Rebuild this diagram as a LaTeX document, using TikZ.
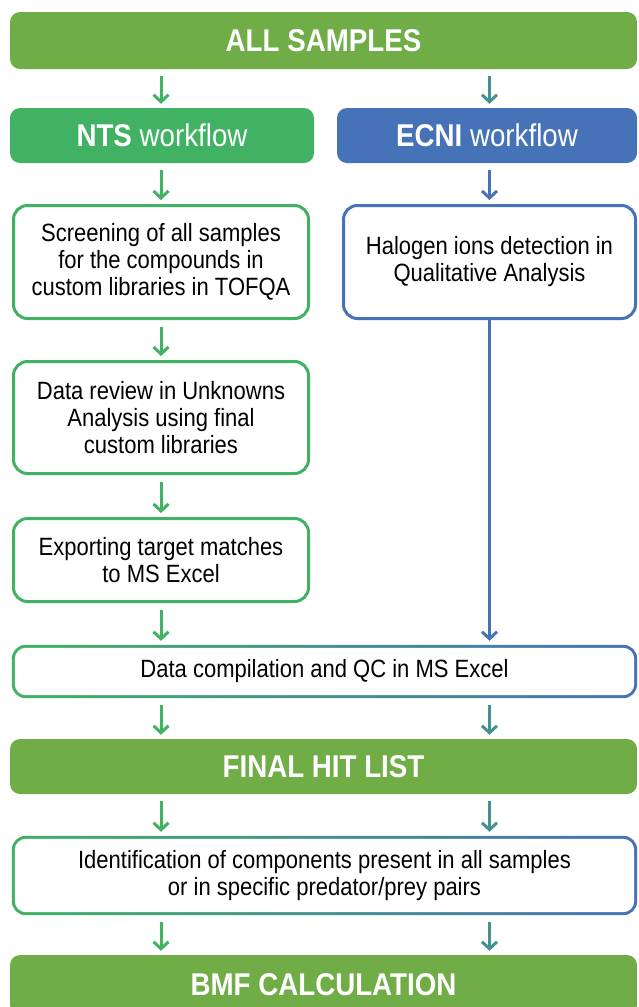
\documentclass[tikz,border=0pt]{standalone}
\usepackage{fontspec}
\setmainfont{Liberation Sans}[FakeStretch=0.88]
\usepackage{tikz}
\usetikzlibrary{arrows.meta, calc, backgrounds}
\definecolor{mBar}{HTML}{70AD47}
\definecolor{mGreen}{HTML}{41B163}
\definecolor{mBlue}{HTML}{4672B8}
\colorlet{mMix}{mGreen!50!mBlue}

\begin{document}
\begin{tikzpicture}[x=1pt, y=1pt, >={Straight Barb[length=7pt, width=15pt]},
  bar/.style={rounded corners=10pt, minimum height=57pt, text=white, inner sep=0pt,
              font=\fontsize{31.5}{34}\selectfont\bfseries},
  box/.style={draw, line width=3pt, rounded corners=14pt, fill=white, align=center,
              inner sep=0pt, font=\fontsize{25}{27}\selectfont},
  gbox/.style={align=center, inner sep=0pt, font=\fontsize{25}{27}\selectfont},
  arr/.style={->, line width=3pt, line join=round, shorten <=7pt, shorten >=4pt}]
  \useasboundingbox (0,0) rectangle (639,-1007);
  % bars and boxes
  \node[bar, fill=mBar, minimum width=627pt] (all) at (323.5,-40.5) {ALL SAMPLES};
  \node[bar, fill=mGreen, minimum width=304pt, minimum height=55pt] (nts) at (162,-135.5)
    {NTS \mdseries workflow};
  \node[bar, fill=mBlue, minimum width=300pt, minimum height=55pt] (ecni) at (487,-135.5)
    {ECNI \mdseries workflow};
  \node[box, draw=mGreen, minimum width=295pt, minimum height=113pt] (scr) at (161,-262)
    {Screening of all samples\\for the compounds in\\custom libraries in TOFQA};
  \node[box, draw=mBlue, minimum width=292pt, minimum height=113pt] (hal) at (489.5,-262)
    {Halogen ions detection in\\Qualitative Analysis};
  \node[box, draw=mGreen, minimum width=295pt, minimum height=112pt] (rev) at (161,-417.5)
    {Data review in Unknowns\\Analysis using final\\custom libraries};
  \node[box, draw=mGreen, minimum width=295pt, minimum height=83pt] (exp) at (161,-560)
    {Exporting target matches\\to MS Excel};
  \node[gbox, minimum width=625pt, minimum height=53pt] (dc) at (324.5,-671.5)
    {Data compilation and QC in MS Excel};
  \node[bar, fill=mBar, minimum width=627pt, minimum height=55pt] (fhl) at (323.5,-766.5)
    {FINAL HIT LIST};
  \node[gbox, minimum width=625pt, minimum height=79pt] (idf) at (324.5,-875.5)
    {Identification of components present in all samples\\or in specific predator/prey pairs};
  \node[bar, fill=mBar, minimum width=627pt, minimum height=60pt] (bmf) at (323.5,-985)
    {BMF CALCULATION};
  % green-to-blue frames
  \begin{scope}[on background layer]
    \foreach \n in {dc, idf} {
      \shade[left color=mGreen, right color=mBlue, rounded corners=14pt]
        (\n.south west) rectangle (\n.north east);
      \fill[white, rounded corners=11pt]
        ($(\n.south west)+(3,3)$) rectangle ($(\n.north east)+(-3,-3)$);
    }
  \end{scope}
  % arrows
  \draw[arr, mGreen] (all.south -| scr) -- (nts.north -| scr);
  \draw[arr, mMix] (all.south -| hal) -- (ecni.north -| hal);
  \draw[arr, mGreen] (nts.south -| scr) -- (scr.north);
  \draw[arr, mBlue] (ecni.south -| hal) -- (hal.north);
  \draw[arr, mGreen] (scr.south) -- (rev.north);
  \draw[arr, mGreen] (rev.south) -- (exp.north);
  \draw[arr, mGreen] (exp.south) -- (dc.north -| exp);
  \draw[arr, mBlue, shorten <=0pt] (hal.south) -- (dc.north -| hal);
  \foreach \a/\b in {dc/fhl, fhl/idf, idf/bmf} {
    \draw[arr, mGreen] (\a.south -| exp) -- (\b.north -| exp);
    \draw[arr, mMix] (\a.south -| hal) -- (\b.north -| hal);
  }
\end{tikzpicture}
\end{document}
